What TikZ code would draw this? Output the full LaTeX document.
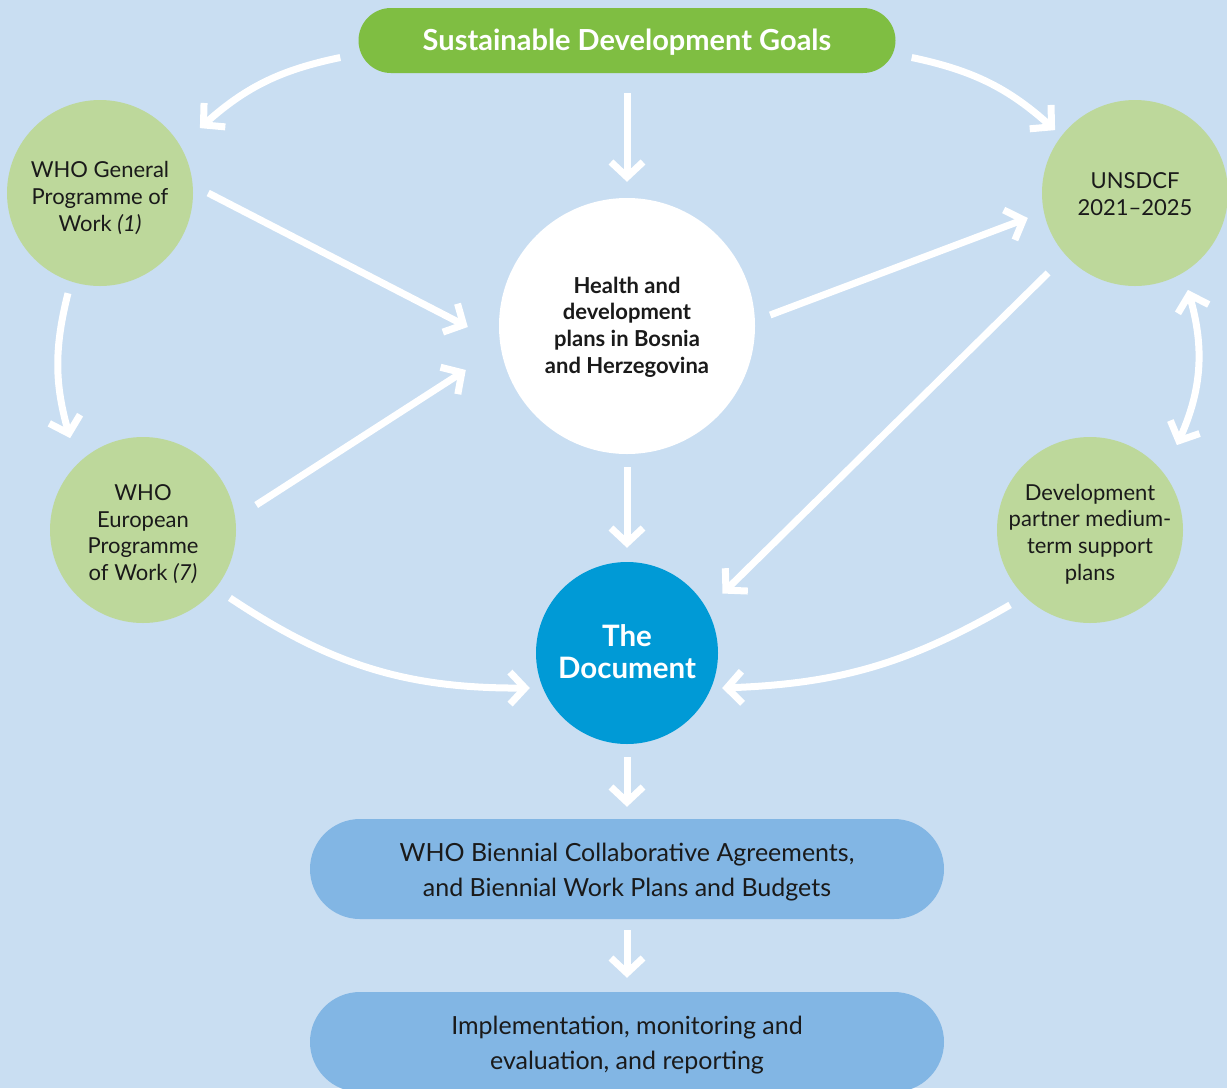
\documentclass[tikz,border=0pt]{standalone}
\usepackage{fontspec}
\setmainfont{Lato}
\usetikzlibrary{arrows.meta}
\definecolor{bgblue}{HTML}{C9DEF2}
\definecolor{sdggreen}{HTML}{7FBE42}
\definecolor{lightgreen}{HTML}{BDD89B}
\definecolor{docblue}{HTML}{009AD6}
\definecolor{pillblue}{HTML}{82B6E4}
\definecolor{ink}{HTML}{1A1A1A}
\tikzset{
  bubble/.style={circle, fill=lightgreen, minimum size=186pt, inner sep=0pt},
  bubbletext/.style={align=center, text=ink, inner sep=0pt, font=\fontsize{22}{26.7}\selectfont},
  pill/.style={rectangle, rounded corners=50pt, fill=pillblue, minimum width=634pt,
    minimum height=100pt},
  pilltext/.style={align=center, text=ink, inner sep=0pt, font=\fontsize{25}{35}\selectfont},
  flow/.style={draw=white, line width=7pt,
    -{Straight Barb[sharp, length=15pt, width=32pt]}},
  twoway/.style={draw=white, line width=7pt,
    {Straight Barb[sharp, length=15pt, width=32pt]}-{Straight Barb[sharp, length=15pt, width=32pt]}}
}
\begin{document}
\begin{tikzpicture}[x=1pt, y=-1pt]
  \useasboundingbox (0,0) rectangle (1227,1088);
  \clip (0,0) rectangle (1227,1088);
  \fill[bgblue] (0,0) rectangle (1227,1088);

  % shapes
  \node[rectangle, rounded corners=32.5pt, fill=sdggreen, minimum width=537pt,
        minimum height=65pt] (sdg) at (627,40.5) {};
  \node[bubble] (gpw) at (100,193) {};
  \node[bubble] (uns) at (1135,193) {};
  \node[bubble] (gpe) at (143,530) {};
  \node[bubble] (dpp) at (1090,530) {};
  \node[circle, fill=white, minimum size=256pt, inner sep=0pt] (hlt) at (627,326) {};
  \node[circle, fill=docblue, minimum size=182pt, inner sep=0pt] (doc) at (627,653) {};
  \node[pill] (bca) at (627,869) {};
  \node[pill] (imp) at (627,1042) {};

  % labels
  \node[text=white, inner sep=0pt, font=\fontsize{29}{32}\selectfont\bfseries]
        (sdgtext) at ([shift={(0,2)}]sdg.center) {Sustainable Development Goals};
  \node[bubbletext] (gpwtext) at ([shift={(0,5)}]gpw.center) {WHO General\\Programme of\\Work \textit{(1)}};
  \node[bubbletext] (unstext) at ([shift={(0,1)}]uns.center) {UNSDCF\\2021–2025};
  \node[bubbletext] (gpetext) at ([shift={(0,4)}]gpe.center) {WHO\\European\\Programme\\of Work \textit{(7)}};
  \node[bubbletext] (dpptext) at ([shift={(0,4)}]dpp.center) {Development\\partner medium-\\term support\\plans};
  \node[align=center, text=ink, inner sep=0pt, font=\fontsize{22}{26.7}\selectfont\bfseries]
        (hlttext) at ([shift={(0,1)}]hlt.center) {Health and\\development\\plans in Bosnia\\and Herzegovina};
  \node[align=center, text=white, inner sep=0pt, font=\fontsize{29.5}{32}\selectfont\bfseries]
        (doctext) at ([shift={(0,-1)}]doc.center) {The\\Document};
  \node[pilltext] (bcatext) at ([shift={(0,3)}]bca.center) {WHO Biennial Collaborative Agreements,\\and Biennial Work Plans and Budgets};
  \node[pilltext] (imptext) at ([shift={(0,3)}]imp.center) {Implementation, monitoring and\\evaluation, and reporting};

  % connectors
  \draw[flow] ([shift={(-18,17)}]sdg.west) to[bend right=15] ([shift={(34,1)}]gpw.north east);
  \draw[flow] ([shift={(16,17)}]sdg.east) to[bend left=15] ([shift={(-14,3)}]uns.north west);
  \draw[flow] ([shift={(0,20)}]sdg.south) -- ([shift={(0,-16)}]hlt.north);
  \draw[flow] ([shift={(15,0)}]gpw.east) -- ([shift={(-31,1)}]hlt.west);
  \draw[flow] ([shift={(20,-25)}]gpe.east) -- ([shift={(-33,44)}]hlt.west);
  \draw[flow] ([shift={(15,-11)}]hlt.east) -- ([shift={(-14,25)}]uns.west);
  \draw[flow] ([shift={(-21,14)}]uns.south west) -- ([shift={(31,5)}]doc.north east);
  \draw[flow] ([shift={(0,13)}]hlt.south) -- ([shift={(0,-14)}]doc.north);
  \draw[flow] ([shift={(-32,7)}]gpw.south) to[bend right=15] ([shift={(-7,-26)}]gpe.north west);
  \draw[twoway] ([shift={(-13,31)}]uns.south east) to[bend left=20] ([shift={(21,-19)}]dpp.north east);
  \draw[flow] ([shift={(21,2)}]gpe.south east) to[bend right=17] ([shift={(-6,35)}]doc.west);
  \draw[flow] ([shift={(-14,9)}]dpp.south west) to[bend left=14] ([shift={(4,35)}]doc.east);
  \draw[flow] ([shift={(0,13)}]doc.south) -- ([shift={(0,-12)}]bca.north);
  \draw[flow] ([shift={(0,11)}]bca.south) -- ([shift={(0,-14)}]imp.north);
\end{tikzpicture}
\end{document}
